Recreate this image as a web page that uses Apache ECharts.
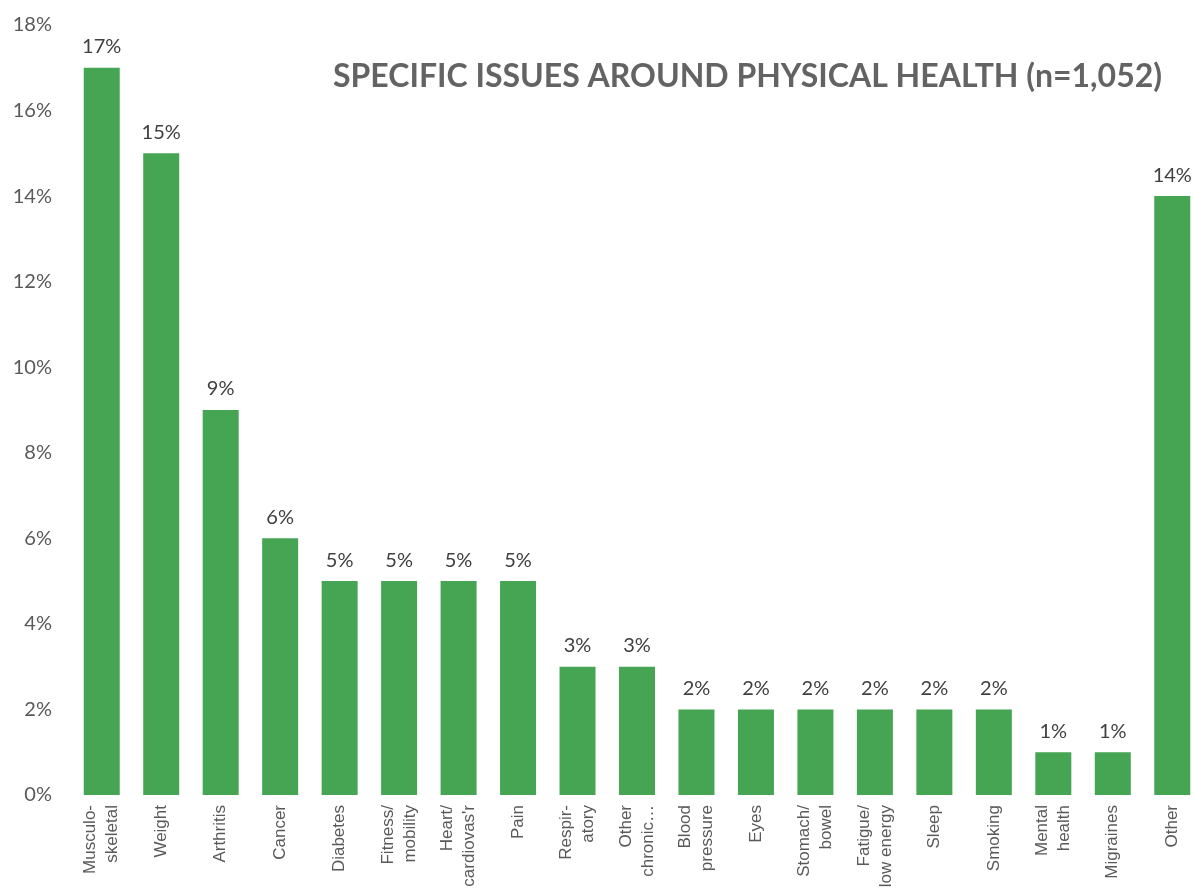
<!DOCTYPE html>
<html>
<head>
<meta charset="utf-8">
<script src="https://cdn.jsdelivr.net/npm/echarts@6/dist/echarts.min.js"></script>
<style>
  html, body { margin: 0; padding: 0; background: #ffffff; overflow: hidden; }
  #chart { width: 1215px; height: 891px; }
</style>
</head>
<body>
<div id="chart"></div>
<script>
// Issues raised around physical health, share of respondents (%)
const categories = [
  'Musculo-\nskeletal', 'Weight', 'Arthritis', 'Cancer', 'Diabetes',
  'Fitness/\nmobility', "Heart/\ncardiovas'r", 'Pain', 'Respir-\natory',
  'Other\nchronic…', 'Blood\npressure', 'Eyes', 'Stomach/\nbowel',
  'Fatigue/\nlow energy', 'Sleep', 'Smoking', 'Mental\nhealth', 'Migraines', 'Other'
];
const values = [17, 15, 9, 6, 5, 5, 5, 5, 3, 3, 2, 2, 2, 2, 2, 2, 1, 1, 14];
const titleText = 'SPECIFIC ISSUES AROUND PHYSICAL HEALTH (n=1,052)';

const chart = echarts.init(document.getElementById('chart'));
chart.setOption({
  animation: false,
  title: {
    text: titleText,
    left: 328,
    top: 56,
    textStyle: {
      fontFamily: 'Lato',
      fontWeight: 'bold',
      fontSize: 32,
      color: '#636363'
    }
  },
  grid: { left: 72, top: 25, width: 1130, bottom: 96 },
  xAxis: {
    type: 'category',
    data: categories,
    axisLine: { show: false },
    axisTick: { show: false },
    axisLabel: {
      rotate: 90,
      interval: 0,
      margin: 10,
      fontFamily: 'Liberation Sans',
      fontSize: 17,
      lineHeight: 22,
      color: '#595959'
    }
  },
  yAxis: {
    type: 'value',
    min: 0,
    max: 18,
    interval: 2,
    splitLine: { show: false },
    axisLine: { show: false },
    axisTick: { show: false },
    axisLabel: {
      formatter: '{value}%',
      margin: 20,
      fontFamily: 'Lato',
      fontSize: 20,
      color: '#595959'
    }
  },
  series: [{
    type: 'bar',
    data: values,
    barWidth: 36,
    itemStyle: { color: '#45a553' },
    label: {
      show: true,
      position: 'top',
      distance: 11,
      formatter: '{c}%',
      fontFamily: 'Lato',
      fontSize: 20,
      color: '#404040'
    }
  }]
});
</script>
</body>
</html>
